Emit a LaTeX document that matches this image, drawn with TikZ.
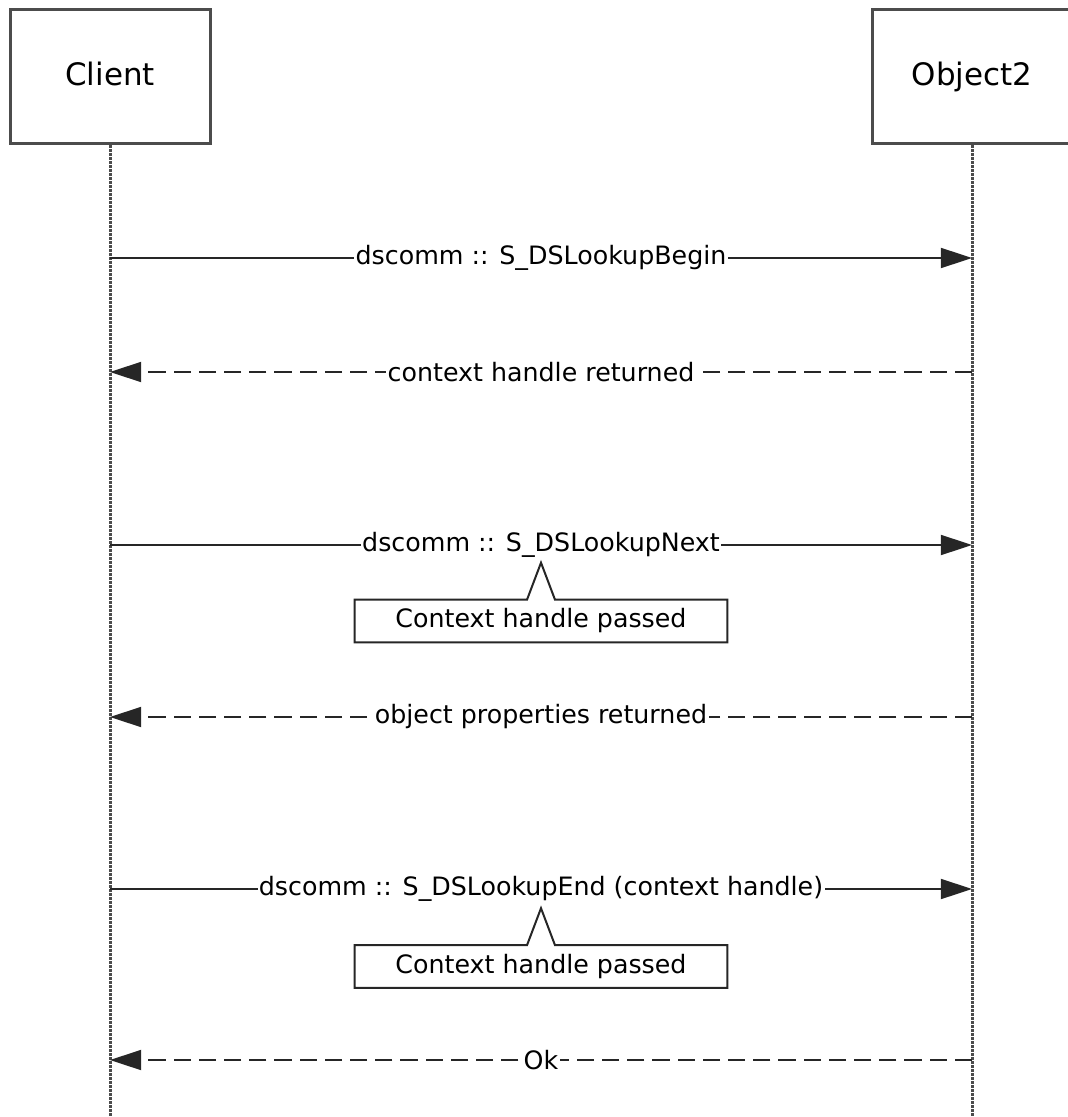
\documentclass[tikz,border=0pt]{standalone}
\usepackage{fontspec}
\setmainfont{DejaVu Sans}
\usetikzlibrary{arrows.meta,positioning}

\begin{document}
\begin{tikzpicture}[>={Triangle[length=0.78cm,width=0.5cm]},font=\fontsize{18}{22}\selectfont,
  obj/.style={draw=black!70,line width=0.075cm,minimum width=5cm,minimum height=3.35cm,inner sep=0pt,
    text height=1.4em,text depth=0.2em,font=\fontsize{22}{26}\selectfont},
  life/.style={draw=black!70,line width=0.075cm,dash pattern=on 0.06cm off 0.04cm},
  msg/.style={draw=black!85,line width=0.05cm,->},
  reply/.style={msg,dash pattern=on 0.43cm off 0.2cm},
  lbl/.style={fill=white,inner sep=0pt,inner xsep=1pt},
  note/.style={minimum width=9.3cm,minimum height=1.05cm,inner sep=0pt},
  noteline/.style={draw=black!85,line width=0.05cm,line join=miter}]
\useasboundingbox (0,0) rectangle (26.675,-27.925);
%% lifelines
\node[obj] (client) at (2.75,-1.925) {Client};
\node[obj] (obj2) at (24.3,-1.925) {Object2};
\coordinate (clientEnd) at (2.75,-27.925);
\coordinate (obj2End) at (24.3,-27.925);
\draw[life] (client.south) -- (clientEnd);
\draw[life] (obj2.south) -- (obj2End);
\foreach \n/\y in {1/6.45,2/9.3,3/13.625,4/17.925,5/22.225,6/26.5} {
  \coordinate (c\n) at (2.75,-\y);
  \coordinate (o\n) at (24.3,-\y);
}
%% messages
\draw[msg] (c1) -- node[lbl] (m1) {dscomm :: S\_DSLookupBegin} (o1);
\draw[reply] (o2) -- node[lbl] (m2) {context handle returned} (c2);
\draw[msg] (c3) -- node[lbl] (m3) {dscomm :: S\_DSLookupNext} (o3);
\draw[reply] (o4) -- node[lbl] (m4) {object properties returned} (c4);
\draw[msg] (c5) -- node[lbl] (m5) {dscomm :: S\_DSLookupEnd (context handle)} (o5);
\draw[reply] (o6) -- node[lbl] (m6) {Ok} (c6);
%% notes
\node[note] (n1) at (13.525,-15.525) {Context handle passed};
\draw[noteline] (n1.north west) -- ([xshift=-0.35cm]n1.north) -- ([yshift=0.925cm]n1.north)
  -- ([xshift=0.35cm]n1.north) -- (n1.north east) -- (n1.south east) -- (n1.south west) -- cycle;
\node[note] (n2) at (13.525,-24.1625) {Context handle passed};
\draw[noteline] (n2.north west) -- ([xshift=-0.35cm]n2.north) -- ([yshift=0.925cm]n2.north)
  -- ([xshift=0.35cm]n2.north) -- (n2.north east) -- (n2.south east) -- (n2.south west) -- cycle;
\end{tikzpicture}
\end{document}
